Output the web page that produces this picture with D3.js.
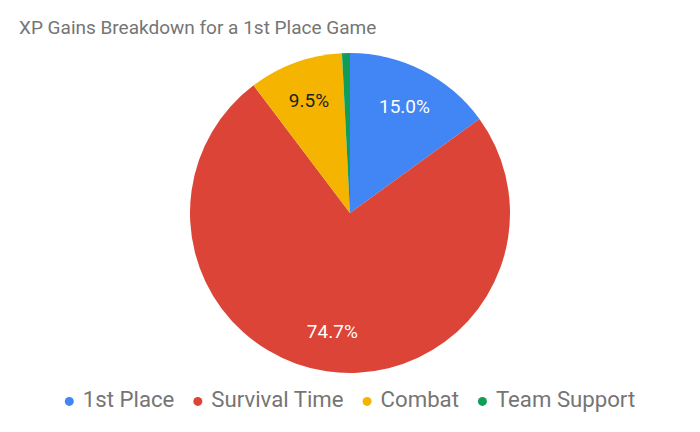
<!DOCTYPE html>
<html>
<head>
<meta charset="utf-8">
<script src="https://cdn.jsdelivr.net/npm/d3@7"></script>
<style>
  body { margin: 0; background: #fff; }
  text { font-family: Roboto, Arial, sans-serif; }
</style>
</head>
<body>
<svg id="chart"></svg>
<script>
var width = 700;
var height = 432;

var categories = ['1st Place', 'Survival Time', 'Combat', 'Team Support'];
var values = [15.0, 74.7, 9.5, 0.8];
var colors = ['#4285f4', '#db4437', '#f4b400', '#0f9d58'];
var labelColors = ['#ffffff', '#ffffff', '#222222', '#ffffff'];

var cx = 350, cy = 213, radius = 160;

var svg = d3.select('#chart')
    .attr('width', width)
    .attr('height', height);

svg.append('text')
    .attr('x', 19)
    .attr('y', 34)
    .attr('font-size', 19)
    .attr('fill', '#757575')
    .text('XP Gains Breakdown for a 1st Place Game');

var pie = d3.pie().sort(null).value(d => d);
var arcs = pie(values);

var arc = d3.arc().innerRadius(0).outerRadius(radius);
var labelArc = d3.arc().innerRadius(radius * 0.75).outerRadius(radius * 0.75);

var g = svg.append('g')
    .attr('transform', 'translate(' + cx + ',' + cy + ')');

g.selectAll('path')
  .data(arcs)
  .enter()
  .append('path')
    .attr('d', arc)
    .attr('fill', (d, i) => colors[i]);

var total = d3.sum(values);
g.selectAll('.label')
  .data(arcs.filter(d => d.value / total > 0.05))
  .enter()
  .append('text')
    .classed('label', true)
    .attr('transform', d => 'translate(' + labelArc.centroid(d) + ')')
    .attr('text-anchor', 'middle')
    .attr('dy', '0.35em')
    .attr('font-size', 19)
    .attr('fill', d => labelColors[d.index])
    .text(d => d.value.toFixed(1) + '%');

// legend, centred under the pie
var legend = svg.append('g');
var items = legend.selectAll('g')
  .data(categories)
  .enter()
  .append('g');

items.append('circle')
    .attr('r', 4.5)
    .attr('cy', -5.6)
    .attr('fill', (d, i) => colors[i]);

items.append('text')
    .attr('x', 13.5)
    .attr('font-size', 22.2)
    .attr('fill', '#757575')
    .text(d => d);

var gap = 19;
var xPos = 0;
items.each(function() {
  var w = this.getBBox().width;
  d3.select(this).attr('transform', 'translate(' + (xPos + 4.5) + ',0)');
  xPos += w + gap;
});
xPos -= gap;
legend.attr('transform', 'translate(' + (cx - xPos / 2) + ',407)');
</script>
</body>
</html>
